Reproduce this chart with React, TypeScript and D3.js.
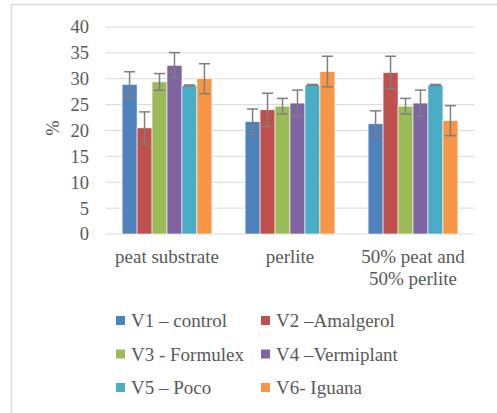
import React, { useEffect, useRef } from "react";
import * as d3 from "d3";

const categories = ["peat substrate", "perlite", "50% peat and|50% perlite"];
const series = ["V1 – control", "V2 –Amalgerol", "V3 - Formulex", "V4 –Vermiplant", "V5 – Poco", "V6- Iguana"];
const colors = ["#4F81BD", "#C0504D", "#9BBB59", "#8064A2", "#4BACC6", "#F79646"];
// values[series][category]
const values = [
  [28.9, 21.7, 21.3],
  [20.5, 24.0, 31.2],
  [29.4, 24.7, 24.7],
  [32.6, 25.3, 25.3],
  [28.7, 28.8, 28.8],
  [30.0, 31.4, 21.9],
];
const errors = [
  [2.45, 2.45, 2.5],
  [3.1, 3.2, 3.15],
  [1.6, 1.5, 1.5],
  [2.45, 2.5, 2.5],
  [0.1, 0.1, 0.1],
  [2.9, 2.95, 2.9],
];
const yTicks = [0, 5, 10, 15, 20, 25, 30, 35, 40];

const FONT = "Liberation Serif, Tinos, Times New Roman, serif";
const TEXT = "#595959";
const GRID = "#d9d9d9";

const App = () => {
  const ref = useRef<SVGSVGElement>(null);

  useEffect(() => {
    const svg = d3.select(ref.current);
    svg.selectAll("*").remove();

    // outer frame
    svg.append("path")
      .attr("d", "M11.5,413 L11.5,4.5 L497,4.5")
      .attr("fill", "none")
      .attr("stroke", GRID)
      .attr("stroke-width", 1.5);

    const x = d3.scaleBand().domain(categories).range([105.5, 474.5]).paddingInner(0.27).paddingOuter(0.135);
    const xs = d3.scaleBand().domain(series).range([0, x.bandwidth()]);
    const y = d3.scaleLinear().domain([0, 40]).range([234, 27]);

    const g = svg.append("g").attr("font-family", FONT).attr("fill", TEXT);
    g.selectAll("line.grid")
      .data(yTicks)
      .enter()
      .append("line")
      .attr("x1", 105.5)
      .attr("x2", 474.5)
      .attr("y1", (d) => y(d))
      .attr("y2", (d) => y(d))
      .attr("stroke", GRID)
      .attr("stroke-width", 1);

    g.selectAll("text.tick")
      .data(yTicks)
      .enter()
      .append("text")
      .attr("x", 89)
      .attr("y", (d) => y(d))
      .attr("dy", "0.35em")
      .attr("text-anchor", "end")
      .attr("font-size", 18.5)
      .text((d) => d);

    g.append("text")
      .attr("transform", "translate(53,128) rotate(-90)")
      .attr("text-anchor", "middle")
      .attr("dy", "0.35em")
      .attr("font-size", 18.5)
      .text("%");

    series.forEach((s, si) => {
      g.append("g").selectAll("rect")
        .data(categories)
        .enter()
        .append("rect")
        .attr("x", (c) => (x(c) as number) + (xs(s) as number))
        .attr("width", xs.bandwidth())
        .attr("y", (c, ci) => y(values[si][ci]))
        .attr("height", (c, ci) => y(0) - y(values[si][ci]))
        .attr("fill", colors[si])
        .style("stroke", "#fff")
        .style("stroke-width", 0.6);
    });

    series.forEach((s, si) => {
      categories.forEach((c, ci) => {
        const cx = (x(c) as number) + (xs(s) as number) + xs.bandwidth() / 2;
        const v = values[si][ci], e = errors[si][ci];
        const eg = g.append("g").attr("stroke", "#7f7f7f").attr("stroke-width", 1.5);
        eg.append("line").attr("x1", cx).attr("x2", cx).attr("y1", y(v + e)).attr("y2", y(v - e));
        [v + e, v - e].forEach((t) => {
          eg.append("line").attr("x1", cx - 5.5).attr("x2", cx + 5.5).attr("y1", y(t)).attr("y2", y(t));
        });
      });
    });

    categories.forEach((c) => {
      const t = g.append("text")
        .attr("text-anchor", "middle")
        .attr("font-size", 19);
      c.split("|").forEach((line, i) => {
        t.append("tspan")
          .attr("x", (x(c) as number) + x.bandwidth() / 2)
          .attr("y", 263 + i * 21.5)
          .text(line);
      });
    });

    series.forEach((s, i) => {
      const lx = i % 2 === 0 ? 116 : 261;
      const ly = 327 + Math.floor(i / 2) * 33.5;
      g.append("rect").attr("x", lx).attr("y", ly - 11).attr("width", 9).attr("height", 9).attr("fill", colors[i]);
      g.append("text")
        .attr("x", lx + 15)
        .attr("y", ly)
        .attr("font-size", 19)
        .text(s);
    });
  }, []);

  return (
    <svg ref={ref} width={497} height={413} style={{ position: "absolute", left: 0, top: 0, background: "#fff" }}></svg>
  );
};

export default App;
